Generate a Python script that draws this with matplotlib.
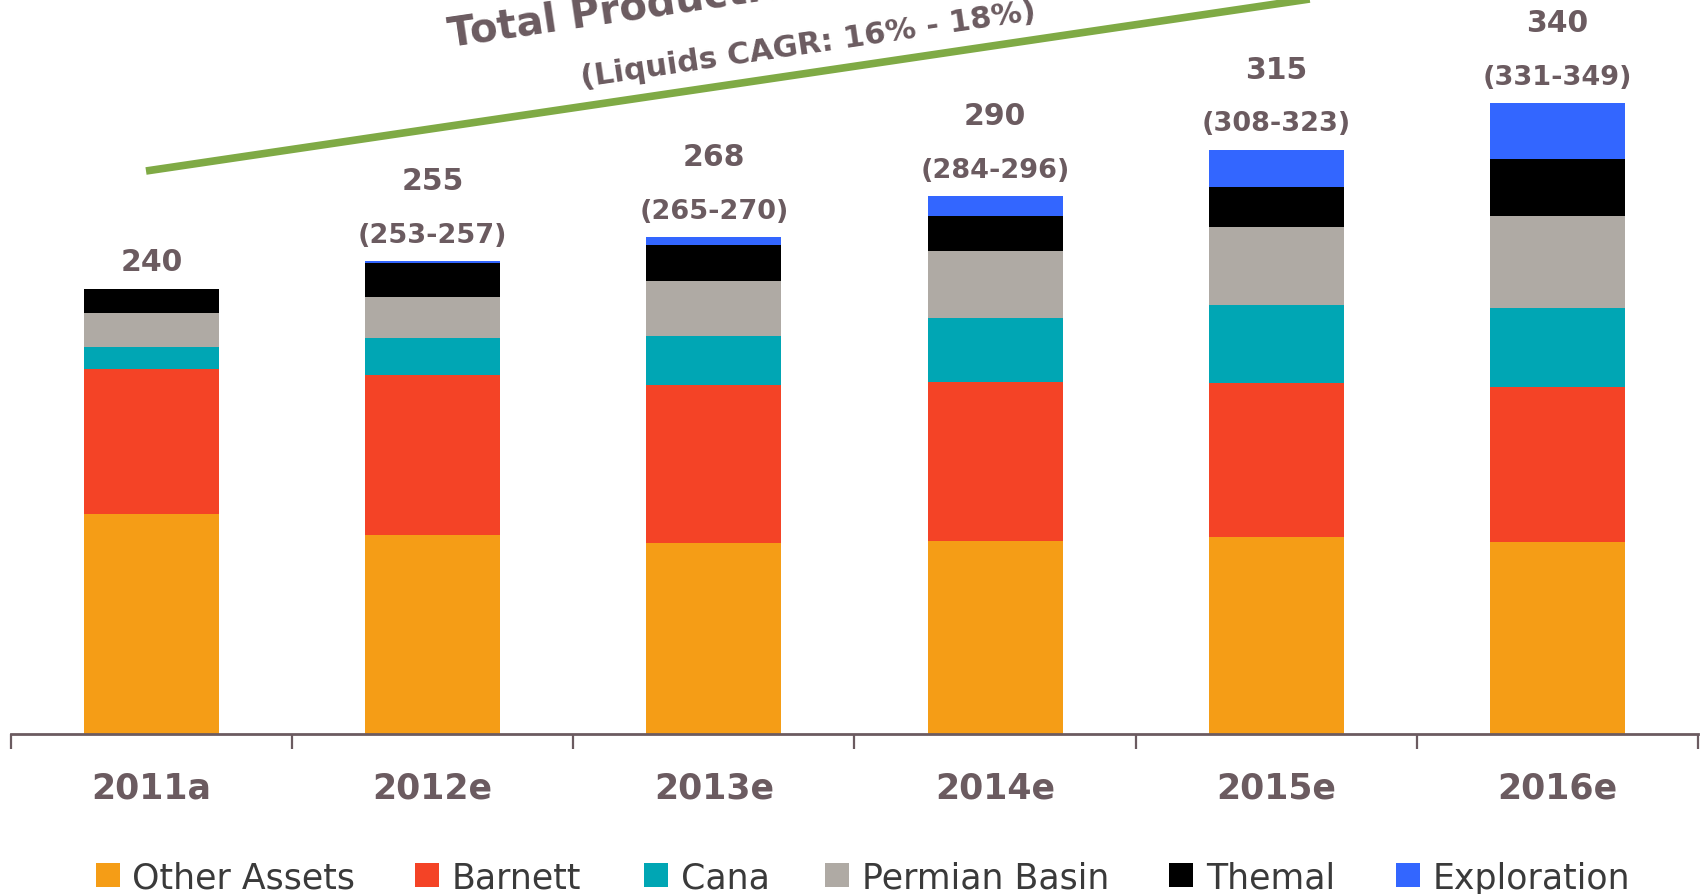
import matplotlib
matplotlib.use("Agg")
import matplotlib.pyplot as plt
from matplotlib.lines import Line2D
from matplotlib.patches import Rectangle
import numpy as np

categories = ['2011a', '2012e', '2013e', '2014e', '2015e', '2016e']
other_assets = [118.7, 107.4, 102.9, 104.2, 106.3, 103.6]
barnett = [77.8, 85.9, 85.0, 85.4, 82.7, 83.4]
cana = [12.2, 19.9, 26.6, 34.9, 42.2, 42.5]
permian = [18.3, 22.2, 29.7, 35.6, 42.0, 49.5]
themal = [12.9, 18.4, 19.3, 19.1, 21.4, 30.9]
exploration = [0.0, 1.1, 4.4, 10.8, 20.4, 30.2]
totals = ['240', '255', '268', '290', '315', '340']
ranges = ['', '(253-257)', '(265-270)', '(284-296)', '(308-323)', '(331-349)']
series_names = ['Other Assets', 'Barnett', 'Cana', 'Permian Basin', 'Themal', 'Exploration']
series = [other_assets, barnett, cana, permian, themal, exploration]
colors = ['#F59D16', '#F44326', '#00A6B4', '#AFAAA4', '#000000', '#3366FF']
title_text = 'Total Production'
subtitle_text = '(Liquids CAGR: 16% - 18%)'

W, H = 1700, 895
TXT = '#6B5B60'
plt.rcParams['font.family'] = ['DejaVu Sans']

fig = plt.figure(figsize=(W / 100, H / 100), dpi=100, facecolor='white')

def fx(x):
    return x / W

def fy(y):
    return 1 - y / H

ax = fig.add_axes([fx(11), fy(735), (1698 - 11) / W, 735 / H])
ax.set_facecolor('white')
x = np.arange(len(categories))
bottom = np.zeros(len(categories))
for vals, col in zip(series, colors):
    ax.bar(x, vals, width=0.48, bottom=bottom, color=col, linewidth=0)
    bottom = bottom + np.array(vals)

ax.set_xlim(-0.5, len(categories) - 0.5)
ax.set_ylim(0, 396.2)
for s in ['top', 'right', 'left']:
    ax.spines[s].set_visible(False)
ax.spines['bottom'].set_color(TXT)
ax.spines['bottom'].set_linewidth(2)
ax.set_yticks([])
ax.set_xticks(np.arange(len(categories) + 1) - 0.5)
ax.set_xticklabels([])
ax.tick_params(axis='x', which='major', direction='out', length=11, width=1.6, color=TXT)
ax.set_xticks(x, minor=True)
ax.set_xticklabels(categories, minor=True, fontsize=25, fontweight='bold', color=TXT)
ax.tick_params(axis='x', which='minor', length=0, pad=26)

for i, top in enumerate(bottom):
    if ranges[i]:
        ax.annotate(ranges[i], (x[i], top), xytext=(0, 19), textcoords='offset points',
                    ha='center', va='center', fontsize=19.5, fontweight='bold', color=TXT)
        off = 58
    else:
        off = 20
    ax.annotate(totals[i], (x[i], top), xytext=(0, off), textcoords='offset points',
                ha='center', va='center', fontsize=21.5, fontweight='bold', color=TXT)

# green trend line
x0, y0, x1, y1 = 146, 172, 1330, -3
fig.add_artist(Line2D([fx(x0), fx(x1)], [fy(y0), fy(y1)], transform=fig.transFigure,
                      color='#7FAA45', linewidth=5.5, solid_capstyle='butt'))
ang = np.degrees(np.arctan((y0 - y1) / (x1 - x0)))
fig.text(fx(450), fy(47), title_text, rotation=ang, rotation_mode='anchor',
         ha='left', va='baseline', fontsize=29, fontweight='bold', color=TXT)
fig.text(fx(582), fy(87), subtitle_text, rotation=ang, rotation_mode='anchor',
         ha='left', va='baseline', fontsize=22, fontweight='bold', color=TXT)

# legend
sq_x = [96, 415, 644, 825, 1169, 1396]
tx_x = [132, 452, 681, 862, 1206, 1433]
for name, col, sx, tx in zip(series_names, colors, sq_x, tx_x):
    fig.add_artist(Rectangle((fx(sx), fy(888)), 24 / W, 24 / H, transform=fig.transFigure,
                             facecolor=col, edgecolor='none'))
    fig.text(fx(tx), fy(889), name, ha='left', va='baseline', fontsize=25, color='#3A3A3A')

fig.savefig('out.png', dpi=100, facecolor='white')
